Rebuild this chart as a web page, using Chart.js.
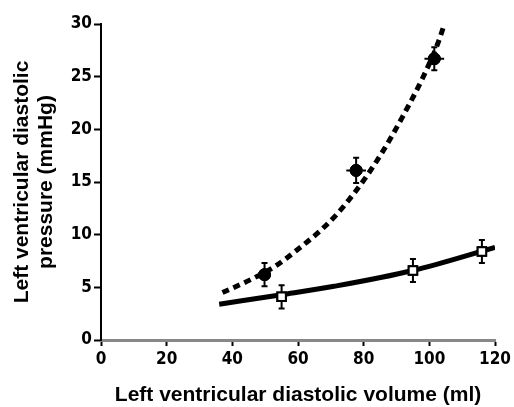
<!DOCTYPE html>
<html>
<head>
<meta charset="utf-8">
<script src="https://cdn.jsdelivr.net/npm/chart.js@4"></script>
<style>
  body { margin: 0; background: #fff; }
  #wrap { width: 514px; height: 407px; }
</style>
</head>
<body>
<div id="wrap"><canvas id="pv"></canvas></div>
<script>
// dashed curve
var curveAX = [37, 46, 53, 59.5, 66.5, 72, 77, 81, 86, 91.5, 98, 102.5, 104.5];
var curveAY = [4.5, 5.8, 7.0, 8.5, 10.3, 12.0, 13.9, 15.6, 18.0, 21.0, 24.9, 28.1, 29.9];
// solid curve
var curveBX = [36, 55, 71, 95, 120];
var curveBY = [3.4, 4.3, 5.1, 6.6, 8.8];
// filled circles
var ptsAX = [49.8, 77.7, 101.5];
var ptsAY = [6.2, 16.1, 26.7];
var errAX = [1.5, 3, 3];
var errAY = [1.1, 1.2, 1.1];
// open squares
var ptsBX = [55, 95, 116];
var ptsBY = [4.1, 6.6, 8.4];
var errBX = [1, 1.5, 1];
var errBY = [1.1, 1.1, 1.1];

var xTicks = [0, 20, 40, 60, 80, 100, 120];
var yTicks = [0, 5, 10, 15, 20, 25, 30];

function toXY(xs, ys) {
  var out = [];
  for (var i in xs) out.push({x: xs[i], y: ys[i]});
  return out;
}

var errorBars = {
  id: 'errorBars',
  afterDatasetsDraw: function(chart) {
    var ctx = chart.ctx;
    var xs = chart.scales.x, ys = chart.scales.y;
    var sets = [[ptsAX, ptsAY, errAX, errAY], [ptsBX, ptsBY, errBX, errBY]];
    ctx.save();
    ctx.strokeStyle = '#000';
    ctx.lineWidth = 2;
    sets.forEach(function(s) {
      for (var i = 0; i < s[0].length; i++) {
        var px = xs.getPixelForValue(s[0][i]);
        var py = ys.getPixelForValue(s[1][i]);
        var x0 = xs.getPixelForValue(s[0][i] - s[2][i]);
        var x1 = xs.getPixelForValue(s[0][i] + s[2][i]);
        var y0 = ys.getPixelForValue(s[1][i] - s[3][i]);
        var y1 = ys.getPixelForValue(s[1][i] + s[3][i]);
        ctx.beginPath();
        ctx.moveTo(px, y0); ctx.lineTo(px, y1);
        ctx.moveTo(x0, py); ctx.lineTo(x1, py);
        ctx.moveTo(px - 3, y0); ctx.lineTo(px + 3, y0);
        ctx.moveTo(px - 3, y1); ctx.lineTo(px + 3, y1);
        ctx.stroke();
      }
    });
    ctx.restore();
    // markers back on top of the bars
    [2, 3].forEach(function(k) {
      chart.getDatasetMeta(k).controller.draw();
    });
  }
};

var tickFont = { family: "'Liberation Sans Narrow', 'DejaVu Sans Condensed', sans-serif", size: 17, weight: 'bold' };
var titleFont = { family: "'Liberation Sans', Arial, sans-serif", size: 21, weight: 'bold', lineHeight: 1.15 };

var chart = new Chart(document.getElementById('pv'), {
  type: 'scatter',
  data: {
    datasets: [
      {
        data: toXY(curveAX, curveAY),
        showLine: true,
        cubicInterpolationMode: 'monotone',
        borderColor: '#000',
        borderWidth: 5,
        borderDash: [7, 5],
        pointRadius: 0
      },
      {
        data: toXY(curveBX, curveBY),
        showLine: true,
        cubicInterpolationMode: 'monotone',
        borderColor: '#000',
        borderWidth: 5,
        pointRadius: 0
      },
      {
        data: toXY(ptsAX, ptsAY),
        pointStyle: 'circle',
        pointRadius: 6,
        backgroundColor: '#000',
        borderColor: '#000'
      },
      {
        data: toXY(ptsBX, ptsBY),
        pointStyle: 'rect',
        pointRadius: 6,
        backgroundColor: '#fff',
        borderColor: '#000',
        borderWidth: 2
      }
    ]
  },
  options: {
    responsive: true,
    maintainAspectRatio: false,
    animation: false,
    layout: { padding: { top: 24, right: 18, left: 10, bottom: 0 } },
    plugins: { legend: { display: false }, tooltip: { enabled: false } },
    scales: {
      x: {
        type: 'linear',
        min: 0, max: 120,
        afterBuildTicks: function(s) { s.ticks = xTicks.map(function(v) { return {value: v}; }); },
        afterFit: function(s) { s.height = 67; },
        grid: { display: true, drawOnChartArea: false, drawTicks: true, tickLength: 6, tickColor: '#000', tickWidth: 2 },
        border: { display: true, color: '#888', width: 3 },
        ticks: { color: '#000', font: tickFont, padding: 3 },
        title: { display: true, text: 'Left ventricular diastolic volume (ml)', color: '#000', font: titleFont, padding: { top: 4, bottom: 0 } }
      },
      y: {
        min: 0, max: 30,
        afterBuildTicks: function(s) { s.ticks = yTicks.map(function(v) { return {value: v}; }); },
        afterFit: function(s) { s.width = 91; },
        grid: { display: true, drawOnChartArea: false, drawTicks: true, tickLength: 7, tickColor: '#000', tickWidth: 2 },
        border: { display: true, color: '#000', width: 2 },
        ticks: { color: '#000', font: tickFont, padding: 2 },
        title: { display: true, text: ['Left ventricular diastolic', 'pressure (mmHg)'], color: '#000', font: titleFont, padding: 0 }
      }
    }
  },
  plugins: [errorBars]
});
</script>
</body>
</html>
